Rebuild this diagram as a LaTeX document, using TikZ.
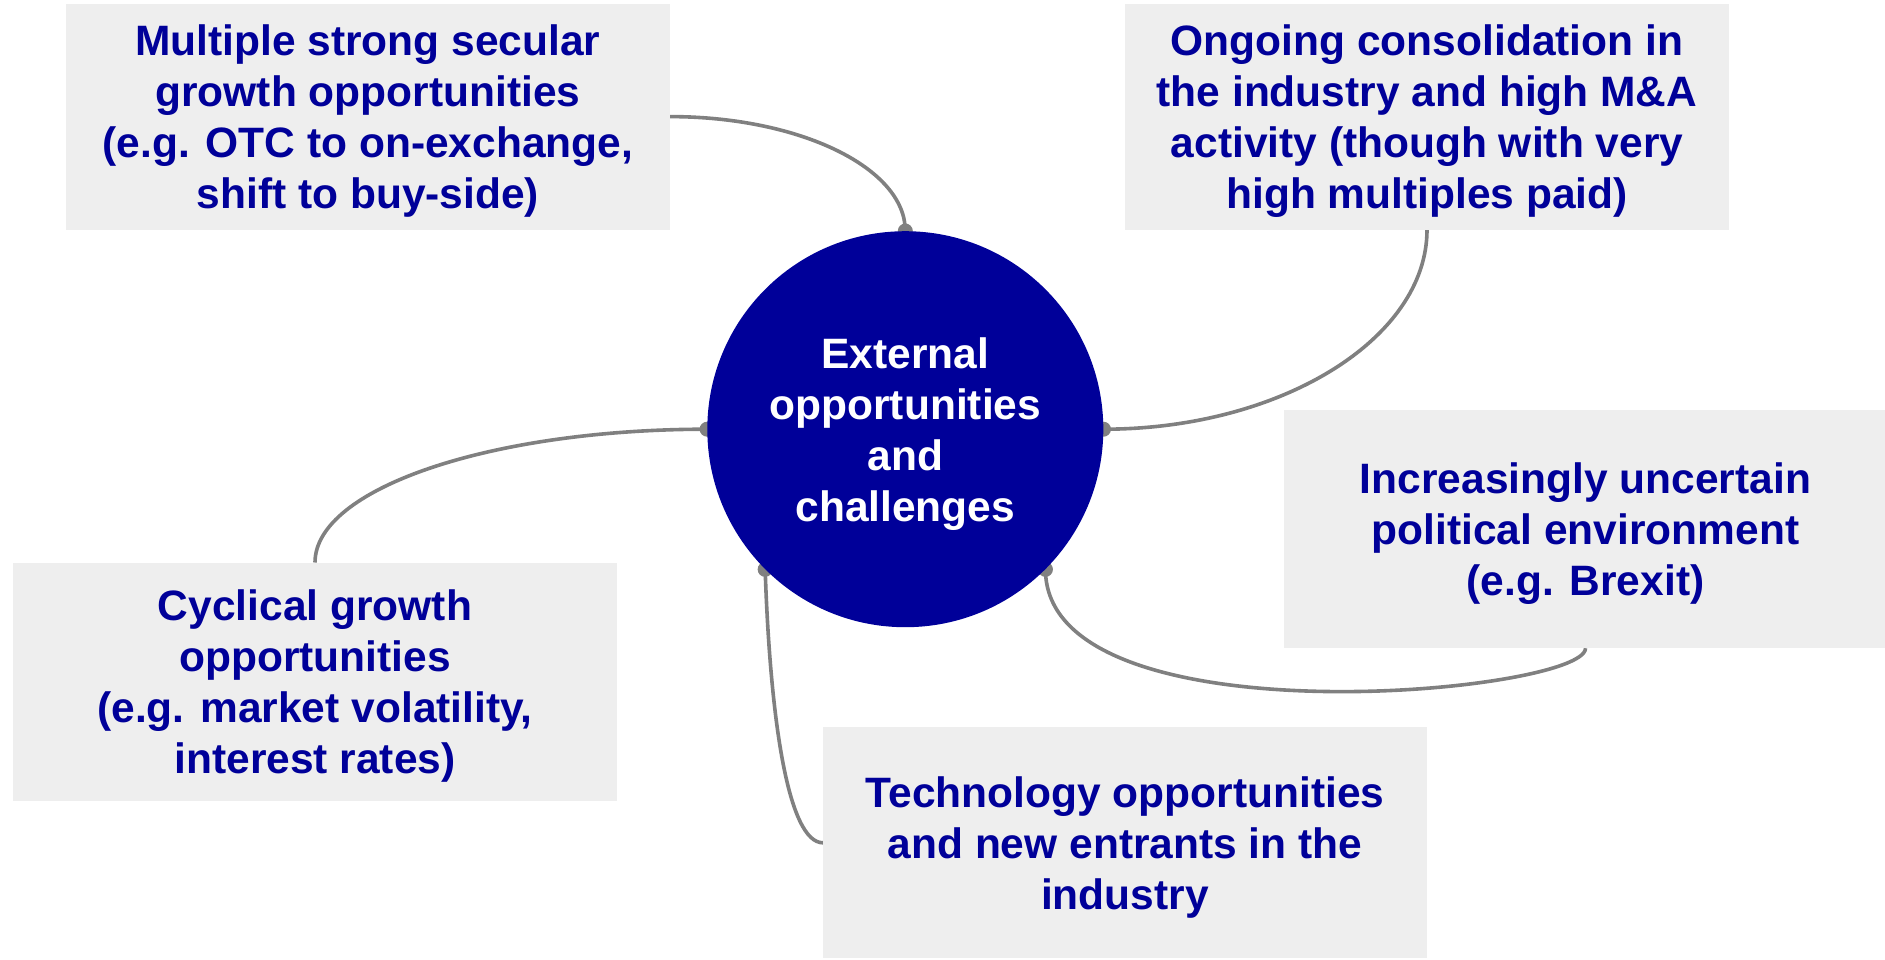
\documentclass[tikz,border=0pt]{standalone}
\usepackage{fontspec}
\setmainfont{Liberation Sans}
\usepackage{tikz}
\usetikzlibrary{backgrounds}
\definecolor{darkblue}{RGB}{0,0,153}
\definecolor{boxgrey}{RGB}{238,238,238}
\definecolor{linkgrey}{RGB}{128,128,128}

\begin{document}
\begin{tikzpicture}[x=1pt,y=1pt]
\tikzstyle{every node}+=[inner sep=0pt, align=center, text depth=-3pt, font=\bfseries\fontsize{42.5}{51}\selectfont]
\tikzstyle{box}=[fill=boxgrey, text=darkblue, minimum width=603.5pt, minimum height=226pt]
\tikzstyle{hub}=[circle, fill=darkblue, text=white, minimum size=396pt]
\tikzstyle{link}=[linkgrey, line width=3.6pt]
\useasboundingbox (0,0) rectangle (1885,-959);
\node [hub] (hub) at (905.3,-429.2) {External\\opportunities\\and\\challenges};
\node [box] (secular) at (367.9,-116.6) {Multiple strong secular\\growth opportunities\\(e.g. OTC to on-exchange,\\shift to buy-side)};
\node [box] (consol) at (1427,-116.6) {Ongoing consolidation in\\the industry and high M\&A\\activity (though with very\\high multiples paid)};
\node [box, minimum height=238pt] (political) at (1585.5,-529) {Increasingly uncertain\\political environment\\(e.g. Brexit)};
\node [box, minimum height=238pt] (cyclical) at (315,-681.7) {Cyclical growth\\opportunities\\(e.g. market volatility,\\interest rates)};
\node [box, minimum height=231pt] (tech) at (1125,-842.8) {Technology opportunities\\and new entrants in the\\industry};
\begin{pgfonlayer}{background}
\draw [link] (secular.east) .. controls +(130,0) and +(0,63) .. (hub.north);
\fill [linkgrey] (hub.north) circle (7.5);
\draw [link] (consol.south) .. controls +(0,-109) and +(177,0) .. (hub.east);
\fill [linkgrey] (hub.east) circle (7.5);
\draw [link] (political.south) .. controls +(0,-45) and +(0,-175) .. (hub.-45);
\fill [linkgrey] (hub.-45) circle (7.5);
\draw [link] (cyclical.north) .. controls +(0,74) and +(-216,0) .. (hub.west);
\fill [linkgrey] (hub.west) circle (7.5);
\draw [link] (tech.west) .. controls +(-35,0) and +(5,-150) .. (hub.-135);
\fill [linkgrey] (hub.-135) circle (7.5);
\end{pgfonlayer}
\end{tikzpicture}
\end{document}
